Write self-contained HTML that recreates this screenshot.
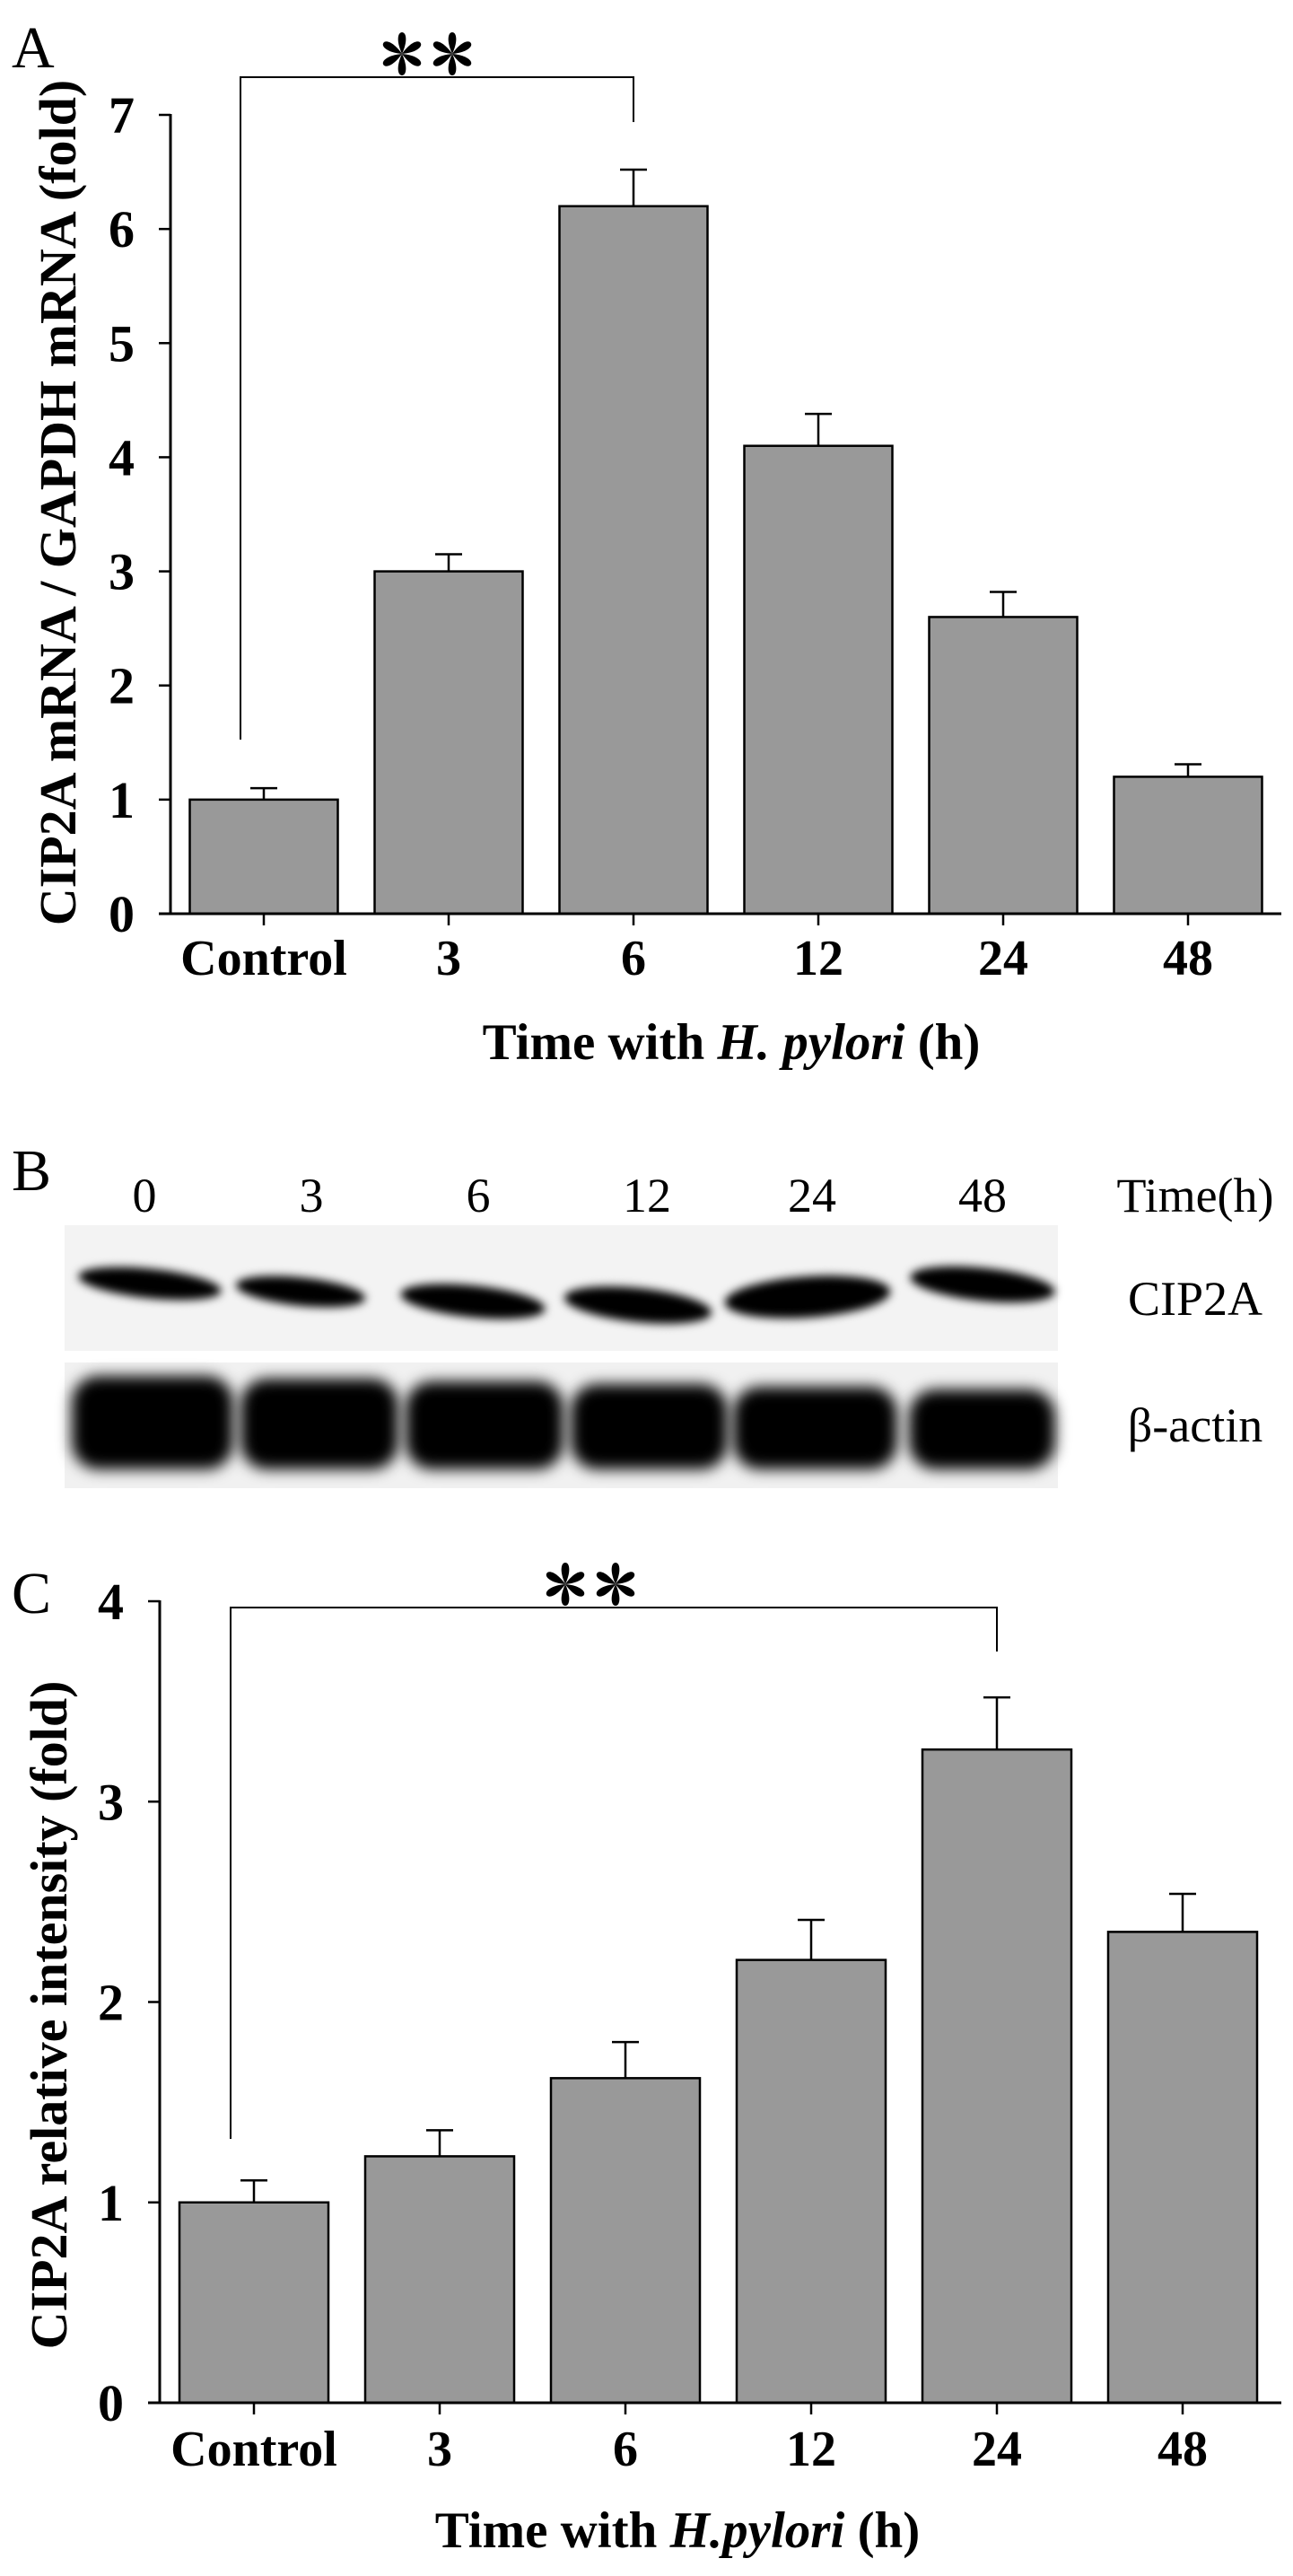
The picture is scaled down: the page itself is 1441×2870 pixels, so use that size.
<!DOCTYPE html>
<html><head><meta charset="utf-8"><style>
html,body{margin:0;padding:0;background:#fff;}
svg{display:block;}
text{font-family:"Liberation Serif",serif;fill:#000;}
.b{font-weight:bold;}
</style></head><body>
<svg id="fig" width="1441" height="2870" viewBox="0 0 1441 2870" xmlns="http://www.w3.org/2000/svg">
<defs>
<filter id="blur1" x="-30%" y="-60%" width="160%" height="220%"><feGaussianBlur stdDeviation="5"/></filter>
<filter id="blur2" x="-20%" y="-30%" width="140%" height="160%"><feGaussianBlur stdDeviation="8"/></filter>
</defs>
<g id="panelA"></g>
<g id="panelB"></g>
<g id="panelC"></g>
</svg>
<script>
const categories = ["Control","3","6","12","24","48"];
const valuesA = [1.0, 3.0, 6.2, 4.1, 2.6, 1.2];
const errorsA = [0.10, 0.15, 0.32, 0.28, 0.22, 0.11];
const ticksA = [0,1,2,3,4,5,6,7];
const valuesC = [1.0, 1.23, 1.62, 2.21, 3.26, 2.35];
const errorsC = [0.11, 0.13, 0.18, 0.20, 0.26, 0.19];
const ticksC = [0,1,2,3,4];
const laneLabels = ["0","3","6","12","24","48"];
const cip2aBandIntensity = [0.8, 0.75, 0.9, 1.0, 1.3, 0.95];

const NS = "http://www.w3.org/2000/svg";
function mk(parent, tag, attrs, txt){
  const e = document.createElementNS(NS, tag);
  for (const k in attrs) e.setAttribute(k, attrs[k]);
  if (txt !== undefined) e.textContent = txt;
  parent.appendChild(e);
  return e;
}
function asterisk(g, cx, cy, r){
  for (let i=0;i<6;i++){
    const a = i*60;
    const el = mk(g,'path',{d:`M${cx},${cy} C${cx-r*0.28},${cy-r*0.6} ${cx-r*0.2},${cy-r} ${cx},${cy-r} C${cx+r*0.2},${cy-r} ${cx+r*0.28},${cy-r*0.6} ${cx},${cy} Z`, fill:'#000', transform:`rotate(${a} ${cx} ${cy})`});
    
    
  }
}

function drawChart(g, cfg){
  const yScale = v => cfg.y0 - v*cfg.unit;
  const xScale = i => cfg.x0c + i*cfg.step;
  cfg.values.forEach((v,i)=>{
    const cx = xScale(i);
    const top = yScale(v+cfg.errors[i]);
    const ln = mk(g,'line',{x1:cx,y1:yScale(v),x2:cx,y2:top,stroke:'#000','stroke-width':2.5});
    
    
    const cap = mk(g,'line',{x1:cx-15,y1:top,x2:cx+15,y2:top,stroke:'#000','stroke-width':2.5});
    
    
    const r = mk(g,'rect',{x:cx-cfg.bw/2,y:yScale(v),width:cfg.bw,height:cfg.y0-yScale(v),fill:'#999999',stroke:'#000','stroke-width':2.5});
    
    
  });
  const ya = mk(g,'line',{x1:cfg.ax,y1:yScale(cfg.ticks[cfg.ticks.length-1])-1,x2:cfg.ax,y2:cfg.y0+1.5,stroke:'#000','stroke-width':3});
  
  
  const xa = mk(g,'line',{x1:cfg.ax-13,y1:cfg.y0,x2:cfg.xend,y2:cfg.y0,stroke:'#000','stroke-width':3});
  
  
  cfg.ticks.forEach(t=>{
    const y = yScale(t);
    const tk = mk(g,'line',{x1:cfg.ax-13,y1:y,x2:cfg.ax,y2:y,stroke:'#000','stroke-width':2.5});
    
    
    const tl = mk(g,'text',{x:cfg.tlx,y:y+20,'text-anchor':'end','font-size':58,class:'b'},String(t));
    
    
  });
  categories.forEach((c,i)=>{
    const cx = xScale(i);
    const tk = mk(g,'line',{x1:cx,y1:cfg.y0,x2:cx,y2:cfg.y0+13,stroke:'#000','stroke-width':2.5});
    
    
    const tl = mk(g,'text',{x:cx,y:cfg.xly,'text-anchor':'middle','font-size':56,class:'b'},c);
    
    
  });
  const b = cfg.bracket;
  const br = mk(g,'polyline',{points:`${xScale(b.i1)-26},${b.yl} ${xScale(b.i1)-26},${b.top} ${xScale(b.i2)},${b.top} ${xScale(b.i2)},${b.yr}`,fill:'none',stroke:'#000','stroke-width':2});
  
  
  const sg = mk(g,'g',{});
  
  
  asterisk(sg, b.ax, b.ay, 24);
  asterisk(sg, b.ax+56, b.ay, 24);
  const xt = mk(g,'text',{x:cfg.xtx,y:cfg.xty,'text-anchor':'middle','font-size':57,class:'b'});
  
  
  mk(xt,'tspan',{},'Time with ');
  mk(xt,'tspan',{'font-style':'italic'},cfg.hp);
  mk(xt,'tspan',{},' (h)');
  const yt = mk(g,'text',{x:0,y:0,'text-anchor':'middle','font-size':cfg.ytfs,class:'b',transform:`translate(${cfg.ytx},${cfg.yty}) rotate(-90)`},cfg.ytitle);
  
  
  const pl = mk(g,'text',{x:13,y:cfg.ply,'font-size':66},cfg.panel);
  
  
}

drawChart(document.getElementById('panelA'),{
  values:valuesA, errors:errorsA, ticks:ticksA,
  y0:1018, unit:(1018-128)/7, x0c:294, step:206, bw:165, ax:190, xend:1428, tlx:150, xly:1086,
  bracket:{i1:0,i2:2,top:86,yl:824,yr:136,ax:448,ay:60},
  xtx:815, xty:1180, hp:'H. pylori', ytitle:'CIP2A mRNA / GAPDH mRNA (fold)', ytfs:58, ytx:84, yty:560,
  panel:'A', ply:75
});
drawChart(document.getElementById('panelC'),{
  values:valuesC, errors:errorsC, ticks:ticksC,
  y0:2677, unit:(2677-1784)/4, x0c:283, step:207, bw:166, ax:178, xend:1428, tlx:138, xly:2747,
  bracket:{i1:0,i2:4,top:1791,yl:2383,yr:1840,ax:630,ay:1765},
  xtx:755, xty:2838, hp:'H.pylori', ytitle:'CIP2A relative intensity (fold)', ytfs:58, ytx:74, yty:2245,
  panel:'C', ply:1797
});

(function(){
  const g = document.getElementById('panelB');
  const bl = mk(g,'text',{x:13,y:1326,'font-size':66},'B');
  
  
  const labX = [161,347,533,721,905,1095];
  laneLabels.forEach((l,i)=>{
    const t = mk(g,'text',{x:labX[i],y:1350,'text-anchor':'middle','font-size':54},l);
    
    
  });
  const th = mk(g,'text',{x:1332,y:1350,'text-anchor':'middle','font-size':54},'Time(h)');
  
  
  const b1 = mk(g,'rect',{x:72,y:1365,width:1107,height:140,fill:'#f3f3f3'});
  
  
  const b2 = mk(g,'rect',{x:72,y:1518,width:1107,height:140,fill:'#f1f1f1'});
  
  
  const bandX = [167,335,527,711,900,1095];
  const bandY = [1430,1439,1450,1454,1445,1431];
  const bandW = [160,145,162,165,185,162];
  cip2aBandIntensity.forEach((k,i)=>{
    const e = mk(g,'ellipse',{cx:bandX[i],cy:bandY[i],rx:bandW[i]/2,ry:6+13*k,fill:'#000',filter:'url(#blur1)',transform:`rotate(${i==4?-4:6} ${bandX[i]} ${bandY[i]})`});
    
    
  });
  const aX = [[78,262],[266,446],[450,630],[634,813],[815,1002],[1011,1178]];
  aX.forEach((p,i)=>{
    const r = mk(g,'rect',{x:p[0]+2,y:1533+ i*3,width:p[1]-p[0]-4,height:104-i*3,rx:30,fill:'#000',filter:'url(#blur2)'});
    
    
  });
  const cl = mk(g,'text',{x:1332,y:1465,'text-anchor':'middle','font-size':54},'CIP2A');
  
  
  const al = mk(g,'text',{x:1332,y:1606,'text-anchor':'middle','font-size':54},'β-actin');
  
  
})();
</script>
</body></html>
